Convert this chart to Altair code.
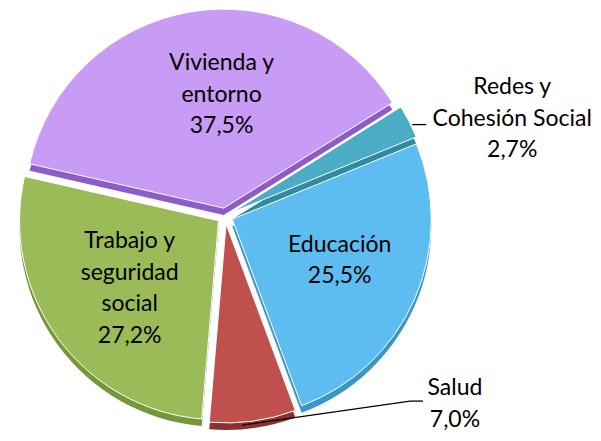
import math
import altair as alt
import pandas as pd

# ---- data ----
CATEGORIES = ["Redes y Cohesión Social", "Educación", "Salud",
              "Trabajo y seguridad social", "Vivienda y entorno"]
VALUES = [2.7, 25.5, 7.0, 27.2, 37.5]
LABEL_LINES = ["Redes y\nCohesión Social", "Educación", "Salud",
               "Trabajo y\nseguridad\nsocial", "Vivienda y\nentorno"]

# ---- styles ----
TOP_COLORS = ["#4BACC6", "#5DBDF0", "#C0504D", "#9BBB59", "#C89BF5"]
SIDE_COLORS = ["#2F8AA3", "#3A95C8", "#8E302D", "#76963A", "#8E5CC8"]

W, H = 585, 425
CX, CY = 217, 208
R = 199
EXPLODE = 8
DEPTH = 7
START = math.radians(58)
TOTAL = sum(VALUES)
LH = 31.5

# label placement: (radius from slice centre, dx, dy)
LABEL_POS = {
    "Redes y Cohesión Social": (R, 103, -3),
    "Educación": (115, 2, -5),
    "Salud": (R, 202, -17),
    "Trabajo y seguridad social": (115, 4, 0),
    "Vivienda y entorno": (115, 17, 0),
}
# leader lines relative to outer anchor: start, elbow, end
LEADERS = {
    "Redes y Cohesión Social": [(3, 3), (3, 3), (17, 3)],
    "Salud": [(-11, 4), (157, -20), (170, -20)],
}


def pct(v):
    return f"{v:.1f}".replace(".", ",") + "%"


rows = []
for i, (c, v) in enumerate(zip(CATEGORIES, VALUES)):
    lr, ldx, ldy = LABEL_POS[c]
    lead = LEADERS.get(c, [(0, 0), (0, 0), (0, 0)])
    text = LABEL_LINES[i] + "\n" + pct(v)
    rows.append(dict(
        category=c, value=v, order=i,
        top=TOP_COLORS[i], side=SIDE_COLORS[i],
        label=text, nlines=text.count("\n") + 1,
        lr=lr, ldx=ldx, ldy=ldy,
        outside=c in LEADERS,
        s_dx=lead[0][0], s_dy=lead[0][1],
        e_dx=lead[1][0], e_dy=lead[1][1],
        f_dx=lead[2][0], f_dy=lead[2][1],
    ))
df = pd.DataFrame(rows)

base = alt.Chart(df).transform_window(
    c1="sum(value)", sort=[alt.SortField("order")], frame=[None, 0]
).transform_calculate(
    c0="datum.c1 - datum.value",
    mid=f"{START} + 2*PI*(datum.c1 - datum.value/2)/{TOTAL}",
).transform_calculate(
    cx=f"{CX} + {EXPLODE}*sin(datum.mid)",
    cy=f"{CY} - {EXPLODE}*cos(datum.mid)",
).transform_calculate(
    cyd=f"datum.cy + {DEPTH}",
    ax=f"datum.cx + {R}*sin(datum.mid)",
    ay=f"datum.cy - {R}*cos(datum.mid)",
    lx="datum.cx + datum.lr*sin(datum.mid) + datum.ldx",
    ly=f"datum.cy - datum.lr*cos(datum.mid) + datum.ldy - (datum.nlines - 1)*{LH}/2",
)

theta_scale = alt.Scale(domain=[0, TOTAL], range=[START, START + 2 * math.pi])

side = base.mark_arc(outerRadius=R).encode(
    theta=alt.Theta("c0:Q", scale=theta_scale, stack=None),
    theta2="c1:Q",
    x=alt.X("cx:Q", scale=None),
    y=alt.Y("cyd:Q", scale=None),
    fill=alt.Fill("side:N", scale=None),
)

top = base.mark_arc(outerRadius=R, stroke="white", strokeWidth=1).encode(
    theta=alt.Theta("c0:Q", scale=theta_scale, stack=None),
    theta2="c1:Q",
    x=alt.X("cx:Q", scale=None),
    y=alt.Y("cy:Q", scale=None),
    fill=alt.Fill("top:N", scale=None),
)

lead_base = base.transform_filter("datum.outside").transform_calculate(
    sx="datum.ax + datum.s_dx", sy="datum.ay + datum.s_dy",
    ex="datum.ax + datum.e_dx", ey="datum.ay + datum.e_dy",
    fx="datum.ax + datum.f_dx", fy="datum.ay + datum.f_dy",
)
lead1 = lead_base.mark_rule(color="black", strokeWidth=1.3).encode(
    x=alt.X("sx:Q", scale=None), y=alt.Y("sy:Q", scale=None),
    x2="ex:Q", y2="ey:Q",
)
lead2 = lead_base.mark_rule(color="black", strokeWidth=1.3).encode(
    x=alt.X("ex:Q", scale=None), y=alt.Y("ey:Q", scale=None),
    x2="fx:Q", y2="fy:Q",
)

labels = base.mark_text(
    font="Lato", fontSize=23, lineBreak="\n", lineHeight=LH,
    align="center", baseline="middle", color="black",
).encode(
    x=alt.X("lx:Q", scale=None),
    y=alt.Y("ly:Q", scale=None),
    text="label:N",
)

chart = alt.layer(side, top, lead1, lead2, labels).properties(
    width=W, height=H,
    autosize=alt.AutoSizeParams(type="none"),
    padding=0,
).configure_view(stroke=None)

chart.save("out.html", embed_options={"renderer": "svg", "actions": False})
